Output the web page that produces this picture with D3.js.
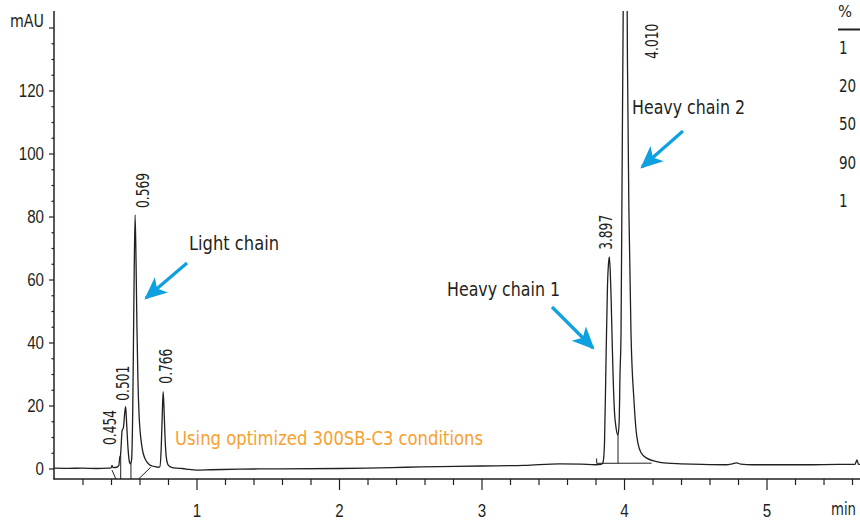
<!DOCTYPE html>
<html>
<head>
<meta charset="utf-8">
<script src="https://cdn.jsdelivr.net/npm/d3@7"></script>
<style>
  body { margin: 0; background: #fff; }
  svg { display: block; font-family: "DejaVu Sans Condensed", "Liberation Sans Narrow", sans-serif; }
</style>
</head>
<body>
<svg id="chart" width="860" height="522"></svg>
<script>
//retention time (min) and absorbance (mAU) of the trace
var times = [0, 0.1, 0.2, 0.3, 0.38, 0.4, 0.407, 0.415, 0.44, 0.455, 0.462, 0.466, 0.478, 0.487, 0.497, 0.503, 0.51, 0.52, 0.53, 0.537,
    0.545, 0.553, 0.561, 0.569, 0.576, 0.582, 0.589, 0.597, 0.604, 0.615, 0.625, 0.64, 0.653, 0.67, 0.688, 0.71, 0.73,
    0.742, 0.752, 0.759, 0.766, 0.772, 0.779, 0.787, 0.797, 0.81, 0.83, 0.86, 0.9, 0.95, 1.0, 1.1, 1.3, 1.6, 2.0, 2.2, 2.47, 2.7, 3.0, 3.3, 3.55, 3.7, 3.8, 3.84,
    3.853, 3.863, 3.874, 3.884, 3.891, 3.897, 3.903, 3.909, 3.916, 3.923, 3.933, 3.944, 3.958, 3.966, 3.972, 3.979, 3.986, 3.995, 4.003, 4.010,
    4.017, 4.024, 4.035, 4.049, 4.07, 4.085, 4.098, 4.12, 4.159, 4.229, 4.3, 4.4, 4.55, 4.72, 4.76, 4.79, 4.82, 4.9, 5.1, 5.3, 5.5, 5.62, 5.635, 5.645, 5.66];
var mAU = [0.1, 0.05, 0.1, 0, 0.1, 0.2, 1.0, 0.3, 0.4, 1.0, 3.7, 4, 12, 13, 18, 19.6, 14, 6, 2, 1.5,
    3, 20, 55, 80.5, 65, 45, 28, 17, 12, 7.5, 5, 3, 2, 1.2, 0.8, 0.6, 0.4,
    0.5, 6, 16, 24.4, 19, 10, 4, 1.5, 0.7, 0.3, 0.1, 0, -0.3, -0.5, -0.4, -0.2, -0.1, 0, 0.1, 0.4, 0.6, 0.8, 1.0, 1.5, 1.4, 1.2, 1.3,
    2, 8, 35, 58, 65, 67.2, 63, 55, 42, 30, 18, 13, 10.6, 15, 30, 43, 90, 150, 200, 215,
    190, 130, 80, 43, 21.5, 12, 8, 5, 3.3, 2.2, 1.7, 1.5, 1.3, 1.2, 1.5, 1.8, 1.4, 1.2, 1.2, 1.2, 1.3, 1.3, 2.7, 1.3, 1.3];

//integration baselines and drop lines: [t1, v1, t2, v2]
var baselines = [
    [0.407, -0.5, 0.435, -3.4],
    [0.468, 4, 0.468, -3.4],
    [0.540, 1.5, 0.540, -3.4],
    [0.592, -3.4, 0.679, 0.4],
    [3.808, 1.65, 4.194, 1.7],
    [3.958, 10.6, 3.958, 1.66],
    [3.808, 1.65, 3.808, 3.2]
];

//peak labels
var peakTimes = [0.454, 0.501, 0.569, 0.766, 3.897, 4.010];
var peakLabels = ["0.454", "0.501", "0.569", "0.766", "3.897", "4.010"];
var peakHeights = [4, 19.6, 80.5, 24.4, 67.2, 145];

//axis ticks
var xTicks = [1, 2, 3, 4, 5];
var yTicks = [0, 20, 40, 60, 80, 100, 120];

//gradient table on the right
var gradientHeader = "%";
var gradientValues = ["1", "20", "50", "90", "1"];

var ink = "#231f20";
var blue = "#0fa0e0";
var svg = d3.select("#chart");

//narrow the text the way the condensed original font looks
function squeeze(sel, perChar) {
    sel.each(function() {
        var t = d3.select(this);
        var n = t.text().length;
        if (n > 0) t.attr("textLength", n * perChar).attr("lengthAdjust", "spacingAndGlyphs");
    });
}

//scales
var xScale = d3.scaleLinear().domain([0, 5.656]).range([54, 860]);
var yScale = d3.scaleLinear().domain([-3.33, 145]).range([479, 11.75]);

svg.append("clipPath").attr("id", "plotClip")
    .append("rect").attr("x", 54).attr("y", 11).attr("width", 806).attr("height", 468);

//x axis (major + minor ticks)
svg.append("g")
    .attr("class", "x-axis")
    .attr("transform", "translate(0,479)")
    .call(d3.axisBottom(xScale).tickValues(xTicks).tickSize(11).tickPadding(14).tickFormat(d3.format("d")));
svg.append("g")
    .attr("transform", "translate(0,479)")
    .call(d3.axisBottom(xScale).tickValues(d3.range(0.2, 5.66, 0.2).filter(function(d) { return Math.abs(d - Math.round(d)) > 0.01; }))
        .tickSize(6).tickFormat(""));

//y axis
svg.append("g")
    .attr("class", "y-axis")
    .attr("transform", "translate(54,0)")
    .call(d3.axisLeft(yScale).tickValues(yTicks).tickSize(5).tickPadding(5).tickFormat(d3.format("d")));
svg.append("g")
    .attr("transform", "translate(54,0)")
    .call(d3.axisLeft(yScale).tickValues(d3.range(5, 141, 5).filter(function(d) { return yTicks.indexOf(d) < 0 && d != 140; }))
        .tickSize(2.5).tickFormat(""));
svg.append("g")
    .attr("transform", "translate(54,0)")
    .call(d3.axisLeft(yScale).tickValues([140]).tickSize(5).tickFormat(""));

svg.selectAll(".domain").remove();
svg.selectAll(".tick line").attr("stroke", ink).attr("stroke-width", 1.2);
svg.selectAll(".tick text").attr("fill", ink).style("font-size", "18px");
squeeze(svg.selectAll(".tick text"), 8.4);

svg.append("line").attr("x1", 54).attr("x2", 54).attr("y1", 11).attr("y2", 479.5)
    .attr("stroke", ink).attr("stroke-width", 1.5);
svg.append("line").attr("x1", 53.5).attr("x2", 860).attr("y1", 479).attr("y2", 479)
    .attr("stroke", ink).attr("stroke-width", 1.5);

//unit labels
svg.append("text").attr("x", 44).attr("y", 27).attr("text-anchor", "end")
    .attr("fill", ink).style("font-size", "18px").attr("textLength", 34).attr("lengthAdjust", "spacingAndGlyphs").text("mAU");
svg.append("text").attr("x", 856).attr("y", 515).attr("text-anchor", "end")
    .attr("fill", ink).style("font-size", "17px").attr("textLength", 25).attr("lengthAdjust", "spacingAndGlyphs").text("min");

//integration marks
svg.append("g").attr("clip-path", "url(#plotClip)")
    .selectAll("line").data(baselines).enter().append("line")
    .attr("x1", function(d) { return xScale(d[0]); })
    .attr("y1", function(d) { return yScale(d[1]); })
    .attr("x2", function(d) { return xScale(d[2]); })
    .attr("y2", function(d) { return yScale(d[3]); })
    .attr("stroke", ink).attr("stroke-width", 1);

//the chromatogram trace
var line = d3.line()
    .x(function(d, i) { return xScale(times[i]); })
    .y(function(d) { return yScale(d); })
    .curve(d3.curveMonotoneX);
svg.append("path").attr("clip-path", "url(#plotClip)")
    .datum(mAU)
    .attr("d", line)
    .attr("fill", "none")
    .attr("stroke", ink)
    .attr("stroke-width", 1.3)
    .attr("stroke-linejoin", "round");

//peak retention time labels (rotated)
var labelDx = [-3, 4, 14, 9, 3, 33];
var labelGap = [11, 6, 7, 8, 7, -47];
svg.selectAll(".peak").data(peakLabels).enter().append("text")
    .attr("class", "peak")
    .attr("transform", function(d, i) {
        var x = xScale(peakTimes[i]) + labelDx[i];
        var y = yScale(peakHeights[i]) - labelGap[i];
        return "translate(" + x + "," + y + ") rotate(-90)";
    })
    .attr("fill", ink).style("font-size", "17px")
    .attr("textLength", 35).attr("lengthAdjust", "spacingAndGlyphs")
    .text(function(d) { return d; });

//annotations with arrows
var notes = [
    {text: "Light chain", x: 189, y: 250, w: 90, ax1: 187, ay1: 263, ax2: 146, ay2: 298},
    {text: "Heavy chain 1", x: 447, y: 296, w: 113, ax1: 552, ay1: 307, ax2: 593, ay2: 348},
    {text: "Heavy chain 2", x: 632, y: 114, w: 113, ax1: 683, ay1: 131, ax2: 642, ay2: 167}
];
svg.append("defs").append("marker")
    .attr("id", "head").attr("viewBox", "0 0 10 10").attr("refX", 9).attr("refY", 5)
    .attr("markerWidth", 7).attr("markerHeight", 7).attr("markerUnits", "strokeWidth")
    .attr("orient", "auto")
    .append("path").attr("d", "M0,0.5 L10,5 L0,9.5 L2.5,5 Z").attr("fill", blue);
svg.selectAll(".note").data(notes).enter().append("text")
    .attr("class", "note")
    .attr("x", function(d) { return d.x; }).attr("y", function(d) { return d.y; })
    .attr("textLength", function(d) { return d.w; }).attr("lengthAdjust", "spacingAndGlyphs")
    .attr("fill", ink).style("font-size", "20px")
    .text(function(d) { return d.text; });
svg.selectAll(".arrow").data(notes).enter().append("line")
    .attr("class", "arrow")
    .attr("x1", function(d) { return d.ax1; }).attr("y1", function(d) { return d.ay1; })
    .attr("x2", function(d) { return d.ax2; }).attr("y2", function(d) { return d.ay2; })
    .attr("stroke", blue).attr("stroke-width", 3.2)
    .attr("marker-end", "url(#head)");

svg.append("text").attr("x", 175).attr("y", 445)
    .attr("fill", "#f7a130").style("font-size", "20px")
    .attr("textLength", 308).attr("lengthAdjust", "spacingAndGlyphs")
    .text("Using optimized 300SB-C3 conditions");

//gradient table
svg.append("text").attr("x", 838).attr("y", 17).attr("fill", ink).style("font-size", "16px")
    .attr("textLength", 14).attr("lengthAdjust", "spacingAndGlyphs").text(gradientHeader);
svg.append("line").attr("x1", 838).attr("x2", 860).attr("y1", 29.5).attr("y2", 29.5)
    .attr("stroke", ink).attr("stroke-width", 2);
var grad = svg.selectAll(".grad").data(gradientValues).enter().append("text")
    .attr("class", "grad")
    .attr("x", 839).attr("y", function(d, i) { return 54 + i * 38.2; })
    .attr("fill", ink).style("font-size", "18px")
    .text(function(d) { return d; });
squeeze(grad, 8.6);
</script>
</body>
</html>
